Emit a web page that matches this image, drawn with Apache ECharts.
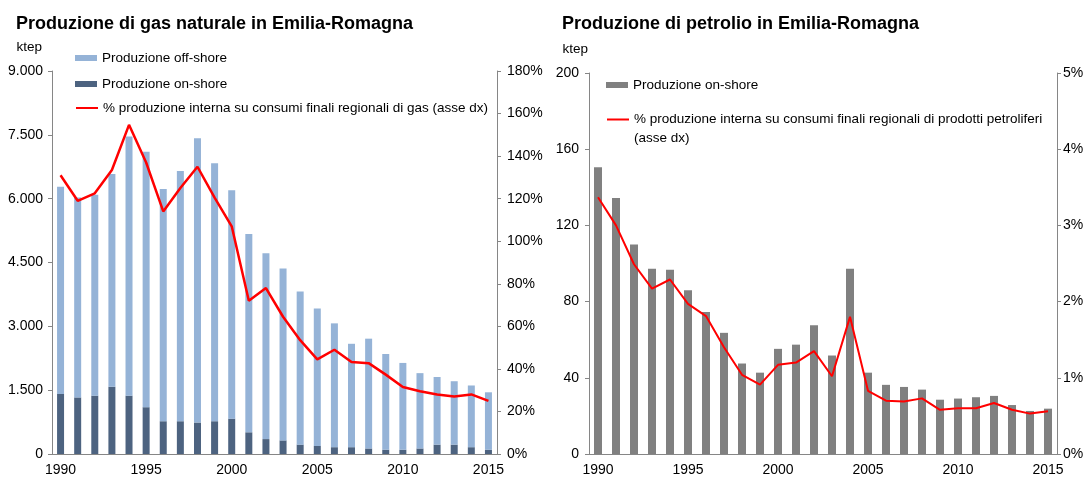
<!DOCTYPE html>
<html>
<head>
<meta charset="utf-8">
<script src="https://cdn.jsdelivr.net/npm/echarts@6/dist/echarts.min.js"></script>
<style>
  html, body { margin: 0; padding: 0; background: #fff; }
  #chart { width: 1088px; height: 478px; }
</style>
</head>
<body>
<div id="chart"></div>
<script>
const years = ['1990', '1991', '1992', '1993', '1994', '1995', '1996', '1997', '1998', '1999', '2000', '2001', '2002',
  '2003', '2004', '2005', '2006', '2007', '2008', '2009', '2010', '2011', '2012', '2013', '2014', '2015'];

// gas, ktep
const gasOnshore = [1410, 1330, 1370, 1580, 1370, 1100, 770, 770, 740, 770, 830, 510, 350,
  320, 220, 190, 160, 160, 130, 100, 100, 130, 220, 220, 160, 100];
const gasOffshore = [4870, 4700, 4720, 5000, 6090, 6000, 5460, 5880, 6680, 6060, 5370, 4660, 4370,
  4040, 3600, 3230, 2910, 2430, 2580, 2250, 2040, 1770, 1590, 1490, 1450, 1350];
// % on regional gas consumption
const gasPct = [131, 119, 122.5, 133.5, 154.7, 137, 114, 125, 135, 120.5, 107, 72, 78,
  64.5, 53.5, 44.5, 49, 43.2, 42.7, 37.3, 31.5, 29.5, 28, 27, 28, 25];

// oil, ktep
const oilOnshore = [150.5, 134.4, 110, 97.2, 96.7, 86, 74.6, 63.6, 47.5, 42.7, 55.2, 57.4, 67.6,
  51.7, 97.2, 42.7, 36.3, 35.2, 33.8, 28.5, 29.1, 29.8, 30.5, 25.7, 22.6, 23.8];
// % on regional oil products consumption
const oilPct = [3.37, 3.0, 2.49, 2.17, 2.29, 1.97, 1.81, 1.40, 1.04, 0.91, 1.17, 1.20, 1.35,
  1.02, 1.80, 0.83, 0.70, 0.69, 0.73, 0.58, 0.60, 0.60, 0.67, 0.58, 0.53, 0.56];

const font = 'Liberation Sans, Arial, sans-serif';
const axisGray = '#868686';

function thousands(v) {
  return String(v).replace(/\B(?=(\d{3})+(?!\d))/g, '.');
}

function catAxis(gridIndex) {
  return {
    type: 'category',
    gridIndex: gridIndex,
    data: years,
    boundaryGap: true,
    axisLine: { lineStyle: { color: axisGray } },
    axisTick: { interval: 0, length: 4, lineStyle: { color: axisGray } },
    axisLabel: { interval: 4, margin: 9, color: '#000', fontFamily: font, fontSize: 14 }
  };
}

function valAxis(gridIndex, max, interval, fmt, margin, name, namePad) {
  return {
    type: 'value',
    gridIndex: gridIndex,
    min: 0,
    max: max,
    interval: interval,
    name: name,
    nameGap: 17,
    nameTextStyle: { align: 'right', padding: namePad, color: '#000', fontFamily: font, fontSize: 13.5 },
    splitLine: { show: false },
    axisLine: { show: true, lineStyle: { color: axisGray } },
    axisTick: { show: true, length: 4, lineStyle: { color: axisGray } },
    axisLabel: { formatter: fmt, margin: margin, color: '#000', fontFamily: font, fontSize: 14 }
  };
}

function legendItem(name, left, top, extra) {
  return Object.assign({
    data: [name],
    left: left,
    top: top,
    padding: 0,
    itemWidth: 22,
    itemHeight: 6,
    textStyle: { color: '#000', fontFamily: font, fontSize: 13.5, lineHeight: 14 }
  }, extra || {});
}

const gasLineName = '% produzione interna su consumi finali regionali di gas (asse dx)';
const oilLineName = '% produzione interna su consumi finali regionali di prodotti petroliferi (asse dx)';

const chart = echarts.init(document.getElementById('chart'));

const option = {
  animation: false,
  title: [
    {
      text: 'Produzione di gas naturale in Emilia-Romagna',
      left: 11, top: 10,
      textStyle: { fontFamily: font, fontSize: 18, fontWeight: 'bold', color: '#000' }
    },
    {
      text: 'Produzione di petrolio in Emilia-Romagna',
      left: 557, top: 10,
      textStyle: { fontFamily: font, fontSize: 18, fontWeight: 'bold', color: '#000' }
    }
  ],
  legend: [
    legendItem('Produzione off-shore', 75, 51, { icon: 'rect' }),
    legendItem('Produzione on-shore', 75, 77, { icon: 'rect' }),
    legendItem(gasLineName, 75, 101, { itemStyle: { opacity: 0 } }),
    legendItem('Produzione on-shore ', 606, 78, { icon: 'rect', formatter: function () { return 'Produzione on-shore'; } }),
    legendItem(oilLineName, 606, 91, {
      itemStyle: { opacity: 0 },
      formatter: function () {
        return '\n% produzione interna su consumi finali regionali di prodotti petroliferi\n(asse dx)';
      },
      textStyle: { color: '#000', fontFamily: font, fontSize: 13.5, lineHeight: 19 }
    })
  ],
  grid: [
    { left: 52, right: 591, top: 71, bottom: 24 },
    { left: 589, right: 31, top: 73, bottom: 24 }
  ],
  xAxis: [catAxis(0), catAxis(1)],
  yAxis: [
    valAxis(0, 9000, 1500, thousands, 9, 'ktep', [0, 10, 0, 0]),
    Object.assign(valAxis(0, 180, 20, function (v) { return v + '%'; }, 10, '', 0), { position: 'right' }),
    valAxis(1, 200, 40, null, 10, 'ktep', [0, 1, 0, 0]),
    Object.assign(valAxis(1, 5, 1, function (v) { return v + '%'; }, 6, '', 0), { position: 'right' })
  ],
  series: [
    {
      name: 'Produzione on-shore',
      type: 'bar',
      stack: 'gas',
      xAxisIndex: 0, yAxisIndex: 0,
      barWidth: 7,
      itemStyle: { color: '#4d6380' },
      data: gasOnshore
    },
    {
      name: 'Produzione off-shore',
      type: 'bar',
      stack: 'gas',
      xAxisIndex: 0, yAxisIndex: 0,
      barWidth: 7,
      itemStyle: { color: '#95b3d7' },
      data: gasOffshore
    },
    {
      name: gasLineName,
      type: 'line',
      xAxisIndex: 0, yAxisIndex: 1,
      symbol: 'none',
      lineStyle: { color: '#ff0000', width: 2.5 },
      itemStyle: { color: '#ff0000' },
      data: gasPct
    },
    {
      name: 'Produzione on-shore ',
      type: 'bar',
      xAxisIndex: 1, yAxisIndex: 2,
      barWidth: 8,
      itemStyle: { color: '#808080' },
      data: oilOnshore
    },
    {
      name: oilLineName,
      type: 'line',
      xAxisIndex: 1, yAxisIndex: 3,
      symbol: 'none',
      lineStyle: { color: '#ff0000', width: 2 },
      itemStyle: { color: '#ff0000' },
      data: oilPct
    }
  ]
};

chart.setOption(option);
</script>
</body>
</html>
